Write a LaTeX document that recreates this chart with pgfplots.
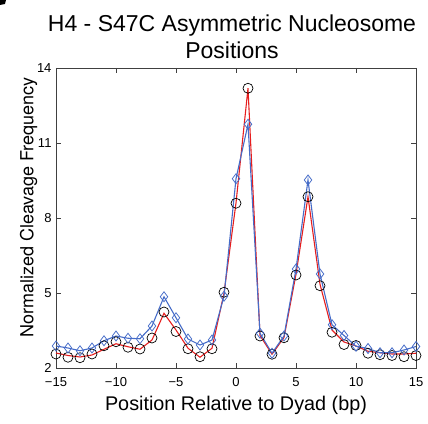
\documentclass[border=0pt]{standalone}
\usepackage{pgfplots}
\pgfplotsset{compat=1.18}
\usepackage{fontspec}
\setmainfont{Liberation Sans}
\newfontfamily\heros{TeX Gyre Heros}
\definecolor{myblue}{RGB}{70,108,200}
\definecolor{myred}{RGB}{230,30,30}
\begin{document}
\begin{tikzpicture}
\useasboundingbox (0bp,0bp) rectangle (428bp,424bp);
\fill[black] (0bp,424bp) -- (6bp,424bp) -- (5bp,420bp) -- (0bp,419bp) -- cycle;
\begin{axis}[
  at={(56bp,56bp)}, anchor=south west,
  scale only axis, width=360bp, height=300bp,
  xmin=-15, xmax=15, ymin=2, ymax=14,
  xtick={-15,-10,-5,0,5,10,15},
  xticklabels={−15,−10,−5,0,5,10,15},
  ytick={2,5,8,11,14},
  yticklabels={2,5,8,11,14},
  tick align=inside,
  major tick length=5bp,
  axis line style={black!75, line width=0.6pt},
  every tick/.style={black!75, line width=0.6pt},
  tick label style={font=\fontsize{13bp}{15bp}\selectfont},
  xticklabel style={yshift=-6bp},
  yticklabel style={xshift=-1bp},
  clip=false,
]
\addplot[myred, line width=1.1pt, no marks] coordinates {
(-15,2.60) (-14,2.50) (-13,2.44) (-12,2.52) (-11,2.75) (-10,2.97) (-9,2.85) (-8,2.75) (-7,3.12) (-6,4.19) (-5,3.52) (-4,2.79) (-3,2.43) (-2,2.79) (-1,4.99) (0,8.60) (1,13.19) (2,3.30) (3,2.55) (4,3.22) (5,5.75) (6,8.85) (7,5.35) (8,3.52) (9,3.04) (10,2.88) (11,2.67) (12,2.61) (13,2.56) (14,2.56) (15,2.59)
};
\addplot[only marks, mark=o, mark size=5bp, mark options={black, line width=0.7pt}] coordinates {
(-15,2.56) (-14,2.43) (-13,2.41) (-12,2.56) (-11,2.89) (-10,3.05) (-9,2.83) (-8,2.76) (-7,3.20) (-6,4.24) (-5,3.46) (-4,2.77) (-3,2.45) (-2,2.77) (-1,5.03) (0,8.59) (1,13.19) (2,3.28) (3,2.55) (4,3.21) (5,5.72) (6,8.85) (7,5.29) (8,3.43) (9,2.94) (10,2.90) (11,2.59) (12,2.53) (13,2.50) (14,2.45) (15,2.50)
};
\addplot[myblue, line width=1.1pt, mark=diamond, mark size=5bp, mark options={myblue, line width=0.8pt}] coordinates {
(-15,2.88) (-14,2.80) (-13,2.69) (-12,2.80) (-11,3.09) (-10,3.28) (-9,3.19) (-8,3.17) (-7,3.68) (-6,4.85) (-5,4.01) (-4,3.16) (-3,2.92) (-2,3.12) (-1,4.87) (0,9.57) (1,11.75) (2,3.39) (3,2.59) (4,3.28) (5,5.96) (6,9.52) (7,5.76) (8,3.73) (9,3.30) (10,2.87) (11,2.78) (12,2.61) (13,2.61) (14,2.72) (15,2.86)
};
\end{axis}
\node[anchor=base, font=\fontsize{23bp}{26bp}\selectfont] at (232bp,392.3bp) {H4 - S47C Asymmetric Nucleosome};
\node[anchor=base, font=\fontsize{23bp}{26bp}\selectfont] at (232bp,365.7bp) {Positions};
\node[anchor=base, font=\fontsize{19.8bp}{22bp}\selectfont] at (236bp,14bp) {Position Relative to Dyad (bp)};
\node[anchor=base, rotate=90, font=\heros\fontsize{18bp}{20bp}\selectfont] at (33.3bp,216.5bp) {Normalized Cleavage Frequency};
\end{tikzpicture}
\end{document}
